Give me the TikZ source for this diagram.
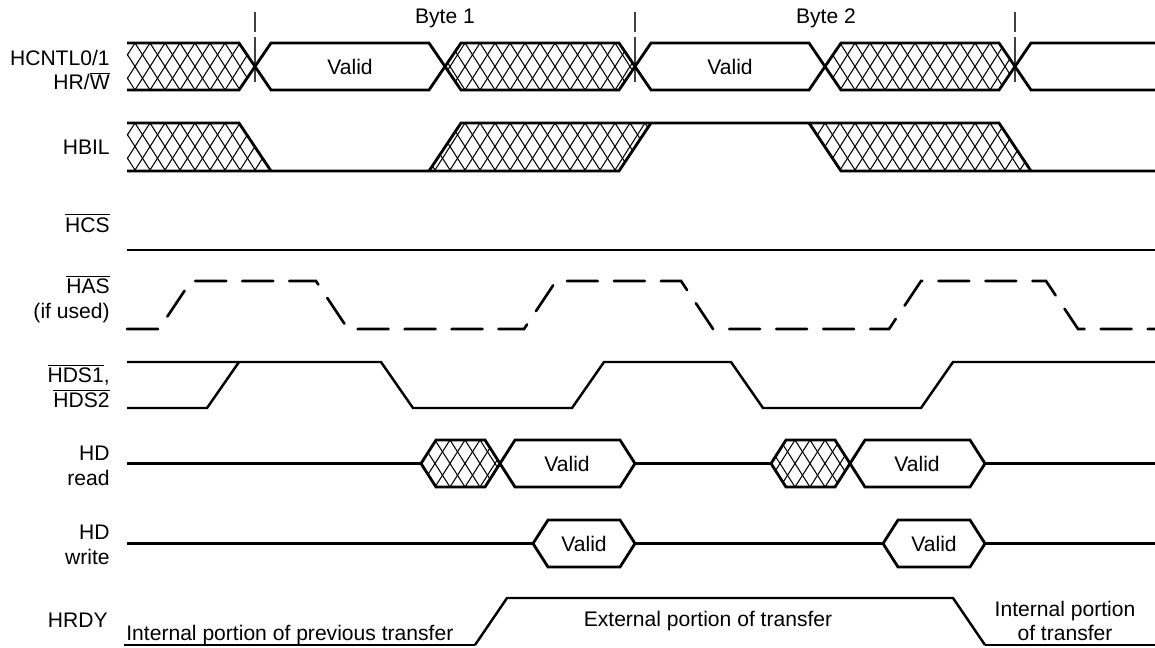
\documentclass[tikz,border=0pt]{standalone}
\usepackage{fontspec}
\setmainfont{Liberation Sans}
\usepackage{tikz}
\newcommand{\fs}{\fontsize{12}{14}\selectfont}
\newcommand{\ovr}[1]{$\overline{\mbox{#1}}$}
% cross-hatch of an undefined region: #1 top y, #2 closed path
\newcommand{\xhatch}[2]{\begin{scope}\clip #2;
  \foreach \hx in {-60,-45,...,1200}{\draw[hatchline] (\hx,#1) -- ++(30,47) (\hx,#1) -- ++(-30,47);}
  \end{scope}}

\begin{document}
\begin{tikzpicture}[x=0.02cm, y=-0.02cm,
    lbl/.style={anchor=east, align=right, inner sep=0pt, font=\fs},
    txt/.style={inner sep=0pt, font=\fs},
    bus/.style={line width=1.6pt},
    sig/.style={line width=1.4pt},
    hasline/.style={line width=1.5pt, line cap=round, dash pattern=on 0.62cm off 0.32cm},
    thinline/.style={line width=0.7pt},
    hatchline/.style={line width=0.6pt},
    marker/.style={line width=0.6pt, black!75, dash pattern=on 0.4cm off 0.1cm on 0.9cm off 0.1cm}
]
\useasboundingbox (0,0) rectangle (1155,647);

% signal names
\node[lbl] (lcntl) at (110,70) {HCNTL0/1\\HR/\ovr{W}};
\node[lbl] (lbil) at (110,147) {HBIL};
\node[lbl] (lcs) at (110,223) {\ovr{HCS}};
\node[lbl] (las) at (110,299) {\ovr{HAS}\\(if used)};
\node[lbl] (lds) at (110,386) {\ovr{HDS1},\\\ovr{HDS2}};
\node[lbl] (lrd) at (110,466) {HD\\read};
\node[lbl] (lwr) at (110,545) {HD\\write};
\node[lbl] (lrdy) at (108,620) {HRDY};

% byte markers
\node[txt] (byte1) at (445,18) {Byte 1};
\node[txt] (byte2) at (826,18) {Byte 2};
\foreach \mx in {255,635,1015} \draw[marker] (\mx,12) -- (\mx,82);

% HCNTL0/1, HR/W
\xhatch{43}{(127,43) -- (239,43) -- (255,66.5) -- (239,90) -- (127,90) -- cycle}
\xhatch{43}{(445,66.5) -- (461,43) -- (619,43) -- (635,66.5) -- (619,90) -- (461,90) -- cycle}
\xhatch{43}{(825,66.5) -- (841,43) -- (999,43) -- (1015,66.5) -- (999,90) -- (841,90) -- cycle}
\draw[bus] (127,43) -- (239,43) -- (271,90) -- (429,90) -- (461,43) -- (619,43) -- (651,90) -- (809,90) -- (841,43) -- (999,43) -- (1031,90) -- (1155,90);
\draw[bus] (127,90) -- (239,90) -- (271,43) -- (429,43) -- (461,90) -- (619,90) -- (651,43) -- (809,43) -- (841,90) -- (999,90) -- (1031,43) -- (1155,43);
\node[txt] (val1) at (350,67) {Valid};
\node[txt] (val2) at (730,67) {Valid};

% HBIL
\xhatch{123}{(127,123) -- (239,123) -- (271,171) -- (127,171) -- cycle}
\xhatch{123}{(429,171) -- (461,123) -- (651,123) -- (619,171) -- cycle}
\xhatch{123}{(809,123) -- (999,123) -- (1031,171) -- (841,171) -- cycle}
\draw[bus] (127,123) -- (239,123) -- (271,171);
\draw[bus] (127,171) -- (619,171) -- (651,123);
\draw[bus] (429,171) -- (461,123) -- (999,123) -- (1031,171);
\draw[bus] (809,123) -- (841,171) -- (1155,171);

% HCS
\draw[bus] (127,250) -- (1155,250);

% HAS
\draw[hasline] (127,329) -- (159,329) -- (191,281) -- (316,281) -- (348,329) -- (524,329) -- (556,281) -- (681,281) -- (713,329) -- (889,329) -- (921,281) -- (1046,281) -- (1078,329) -- (1155,329);

% HDS1, HDS2
\draw[sig] (127,362) -- (381,362) -- (413,408) -- (572,408) -- (604,362) -- (731,362) -- (763,408) -- (921,408) -- (953,362) -- (1155,362);
\draw[sig] (127,408) -- (207,408) -- (239,362);

% HD read
\xhatch{440}{(421,463.5) -- (436,440) -- (485,440) -- (500,463.5) -- (485,487) -- (436,487) -- cycle}
\xhatch{440}{(771,463.5) -- (786,440) -- (835,440) -- (850,463.5) -- (835,487) -- (786,487) -- cycle}
\draw[sig] (127,463.5) -- (421,463.5) (635,463.5) -- (771,463.5) (985,463.5) -- (1155,463.5);
\draw[bus] (421,463.5) -- (436,440) -- (485,440) -- (500,463.5) -- (485,487) -- (436,487) -- cycle;
\draw[bus] (500,463.5) -- (515,440) -- (620,440) -- (635,463.5) -- (620,487) -- (515,487) -- cycle;
\draw[bus] (771,463.5) -- (786,440) -- (835,440) -- (850,463.5) -- (835,487) -- (786,487) -- cycle;
\draw[bus] (850,463.5) -- (865,440) -- (970,440) -- (985,463.5) -- (970,487) -- (865,487) -- cycle;
\node[txt] (rd1) at (567,463.5) {Valid};
\node[txt] (rd2) at (917,463.5) {Valid};

% HD write
\draw[sig] (127,543.5) -- (533,543.5) (635,543.5) -- (883,543.5) (985,543.5) -- (1155,543.5);
\draw[bus] (533,543.5) -- (548,520) -- (620,520) -- (635,543.5) -- (620,567) -- (548,567) -- cycle;
\draw[bus] (883,543.5) -- (898,520) -- (970,520) -- (985,543.5) -- (970,567) -- (898,567) -- cycle;
\node[txt] (wr1) at (584,543.5) {Valid};
\node[txt] (wr2) at (934,543.5) {Valid};

% HRDY
\draw[thinline] (124,645) -- (475,645) (985,645) -- (1155,645);
\draw[sig] (475,645) -- (507,598) -- (953,598) -- (985,645);
\node[txt, anchor=base west] (prev) at (126,640) {Internal portion of previous transfer};
\node[txt] (ext) at (708,621) {External portion of transfer};
\node[txt, align=center] (int) at (1065,621) {Internal portion\\of transfer};
\end{tikzpicture}
\end{document}
